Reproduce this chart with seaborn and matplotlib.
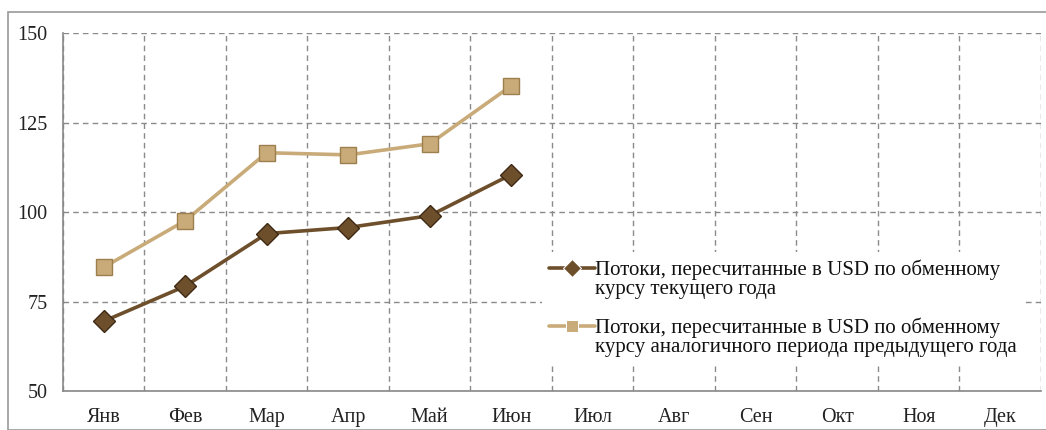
import numpy as np
import pandas as pd
import seaborn as sns
from matplotlib import pyplot as plt
from matplotlib.patches import Rectangle
from matplotlib.lines import Line2D
from matplotlib.legend_handler import HandlerLine2D

months = ["Янв", "Фев", "Мар", "Апр", "Май", "Июн",
          "Июл", "Авг", "Сен", "Окт", "Ноя", "Дек"]
current_rate = [69.5, 79.3, 94.0, 95.7, 99.0, 110.5]
previous_rate = [84.6, 97.6, 116.6, 116.0, 119.1, 135.3]
label_current = "Потоки, пересчитанные в USD по обменному\nкурсу текущего года"
label_previous = "Потоки, пересчитанные в USD по обменному\nкурсу аналогичного периода предыдущего года"

sns.set_theme(style="white")
plt.rcParams['font.family'] = ['Liberation Serif', 'DejaVu Serif']


class FirstLineHandler(HandlerLine2D):
    """Put the legend handle next to the first line of a two-line label."""

    def create_artists(self, legend, orig_handle, xdescent, ydescent,
                       width, height, fontsize, trans):
        return super().create_artists(legend, orig_handle, xdescent,
                                      ydescent - 16, width, height,
                                      fontsize, trans)


df = pd.DataFrame({
    "pos": list(range(len(current_rate))) * 2,
    "value": current_rate + previous_rate,
    "series": [label_current] * len(current_rate) + [label_previous] * len(previous_rate),
})

fig = plt.figure(figsize=(10.46, 4.30), dpi=100)
ax = fig.add_axes([0.0602, 0.0907, 0.935, 0.832])

# outer chart frame
fig.patches.append(Rectangle((8 / 1046, 0.0), 1.2, 1 - 12 / 430,
                             transform=fig.transFigure, fill=False,
                             edgecolor="#999999", linewidth=1.2))

dark = "#6e4f2c"
light = "#c9ab79"
sns.lineplot(data=df, x="pos", y="value", hue="series", style="series",
             palette={label_current: dark, label_previous: light},
             markers={label_current: "D", label_previous: "s"},
             dashes=False, linewidth=2.6, markersize=11, sort=False, ax=ax)

for line, edge in zip(ax.lines[:2], ["#3e2a14", "#9c7f4c"]):
    line.set_markeredgecolor(edge)
    line.set_markeredgewidth(1.0)

ax.set_xlim(-0.5, 11.5)
ax.set_ylim(50, 150)
ax.set_yticks([50, 75, 100, 125, 150])
ax.set_xticks(range(12))
ax.set_xticklabels(months)
ax.set_xticks(np.arange(-0.5, 12, 1), minor=True)
ax.tick_params(axis="x", which="major", length=0, labelsize=14.5, pad=12, colors="#222222")
ax.tick_params(axis="x", which="minor", length=6, width=1, color="#888888", direction="out")
ax.tick_params(axis="y", length=7, width=1, labelsize=14.5, pad=4, colors="#222222")
ax.tick_params(axis="y", color="#888888")
ax.grid(True, axis="y", which="major", linestyle=(0, (4, 3)), color="#8a8a8a", linewidth=1)
ax.grid(True, axis="x", which="minor", linestyle=(0, (4, 3)), color="#8a8a8a", linewidth=1)
ax.grid(False, axis="x", which="major")

for side in ["top", "right"]:
    ax.spines[side].set_visible(False)
for side in ["left", "bottom"]:
    ax.spines[side].set_color("#888888")
    ax.spines[side].set_linewidth(1.2)

ax.set_xlabel(None)
ax.set_ylabel(None)

handles, labels = ax.get_legend_handles_labels()
leg = ax.legend(handles, labels, loc="upper left", bbox_to_anchor=(0.479, 0.418),
                frameon=True, fontsize=15, handlelength=2.2, handletextpad=0.0,
                labelspacing=0.9, borderpad=0.35, framealpha=1, markerscale=0.85,
                handler_map={Line2D: FirstLineHandler()})
leg.get_frame().set_edgecolor("white")
leg.get_frame().set_linewidth(0)
for t in leg.get_texts():
    t.set_linespacing(1.0)
    t.set_color("#111111")

fig.savefig("out.png", dpi=100)
